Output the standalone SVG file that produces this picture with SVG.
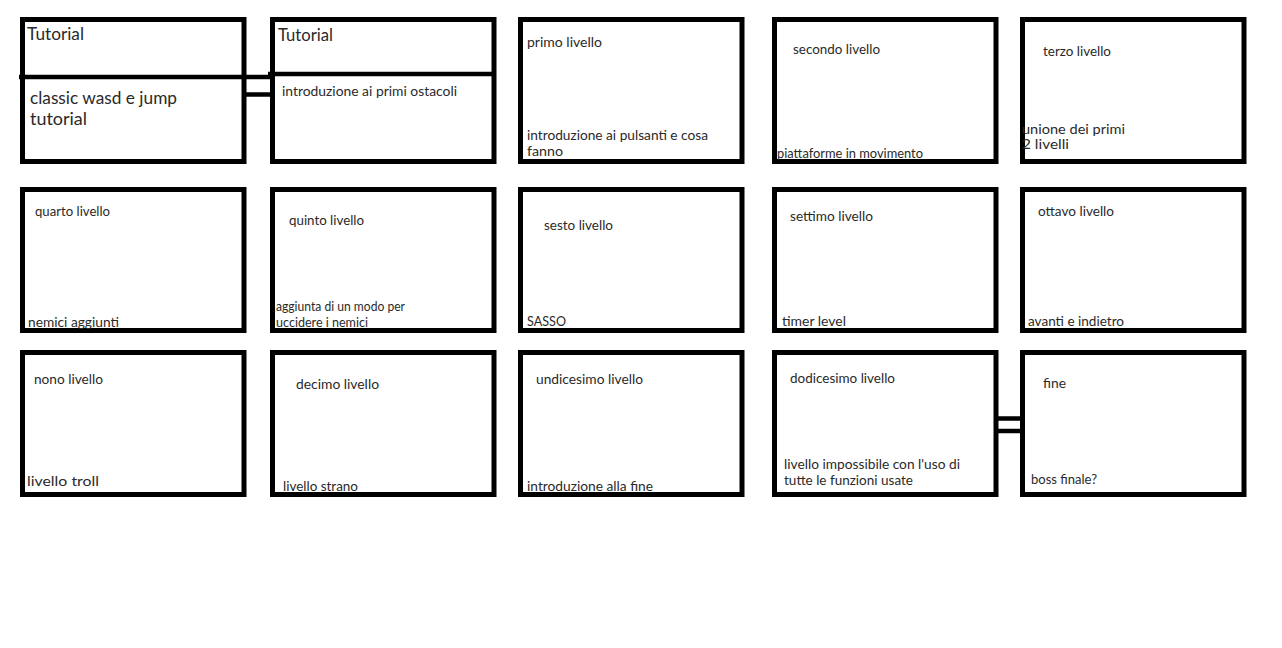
<svg xmlns="http://www.w3.org/2000/svg" width="1282" height="648" viewBox="0 0 1282 648">
  <style>
    .box { fill: #ffffff; stroke: #000000; stroke-width: 5; }
    .bar { stroke: #000000; stroke-width: 4.5; fill: none; }
    .t { font-family: Lato, "Open Sans", "Liberation Sans", sans-serif; font-size: 13px; fill: #2a2a2a; }
    .big { font-size: 16.5px; }
  </style>
  <rect width="1282" height="648" fill="#ffffff"/>

  <!-- links between consecutive levels -->
  <g id="connectors">
    <line class="bar" x1="245" y1="77" x2="272" y2="77"/>
    <line class="bar" x1="245" y1="94.5" x2="272" y2="94.5"/>
    <line class="bar" x1="997" y1="418.5" x2="1022" y2="418.5"/>
    <line class="bar" x1="997" y1="431" x2="1022" y2="431"/>
  </g>

  <!-- row 1 -->
  <g id="tutorial-1">
    <rect class="box" x="22.5" y="19.5" width="221.5" height="142"/>
    <line class="bar" x1="19" y1="77" x2="245" y2="77"/>
    <text class="t big" x="27" y="40" textLength="57" lengthAdjust="spacingAndGlyphs">Tutorial</text>
    <text class="t big" x="30" y="104" textLength="147" lengthAdjust="spacingAndGlyphs">classic wasd e jump</text>
    <text class="t big" x="30" y="125" textLength="57" lengthAdjust="spacingAndGlyphs">tutorial</text>
  </g>
  <g id="tutorial-2">
    <rect class="box" x="272.5" y="19.5" width="221.5" height="142"/>
    <line class="bar" x1="268" y1="74" x2="495" y2="74"/>
    <text class="t big" x="278" y="41" textLength="55" lengthAdjust="spacingAndGlyphs">Tutorial</text>
    <text class="t" x="282" y="96" textLength="175" lengthAdjust="spacingAndGlyphs">introduzione ai primi ostacoli</text>
  </g>
  <g id="livello-1">
    <rect class="box" x="520.5" y="19.5" width="221.5" height="142"/>
    <text class="t" x="527" y="47" textLength="75" lengthAdjust="spacingAndGlyphs">primo livello</text>
    <text class="t" x="527" y="140" textLength="181" lengthAdjust="spacingAndGlyphs">introduzione ai pulsanti e cosa</text>
    <text class="t" x="527" y="156" textLength="36" lengthAdjust="spacingAndGlyphs">fanno</text>
  </g>
  <g id="livello-2">
    <rect class="box" x="774.5" y="19.5" width="221.5" height="142"/>
    <text class="t" x="793" y="54" textLength="87" lengthAdjust="spacingAndGlyphs">secondo livello</text>
    <text class="t" x="777" y="158" textLength="146" lengthAdjust="spacingAndGlyphs">piattaforme in movimento</text>
  </g>
  <g id="livello-3">
    <rect class="box" x="1022.5" y="19.5" width="221.5" height="142"/>
    <text class="t" x="1043" y="56" textLength="68" lengthAdjust="spacingAndGlyphs">terzo livello</text>
    <text class="t" x="1022" y="134" textLength="103" lengthAdjust="spacingAndGlyphs">unione dei primi</text>
    <text class="t" x="1022" y="149" textLength="47" lengthAdjust="spacingAndGlyphs">2 livelli</text>
  </g>

  <!-- row 2 -->
  <g id="livello-4">
    <rect class="box" x="22.5" y="189.5" width="221.5" height="141"/>
    <text class="t" x="35" y="216" textLength="75" lengthAdjust="spacingAndGlyphs">quarto livello</text>
    <text class="t" x="28" y="327" textLength="91" lengthAdjust="spacingAndGlyphs">nemici aggiunti</text>
  </g>
  <g id="livello-5">
    <rect class="box" x="272.5" y="189.5" width="221.5" height="141"/>
    <text class="t" x="289" y="225" textLength="75" lengthAdjust="spacingAndGlyphs">quinto livello</text>
    <text class="t" x="276" y="311" textLength="129" lengthAdjust="spacingAndGlyphs">aggiunta di un modo per</text>
    <text class="t" x="276" y="327" textLength="92" lengthAdjust="spacingAndGlyphs">uccidere i nemici</text>
  </g>
  <g id="livello-6">
    <rect class="box" x="520.5" y="189.5" width="221.5" height="141"/>
    <text class="t" x="544" y="230" textLength="69" lengthAdjust="spacingAndGlyphs">sesto livello</text>
    <text class="t" x="527" y="326" textLength="39" lengthAdjust="spacingAndGlyphs">SASSO</text>
  </g>
  <g id="livello-7">
    <rect class="box" x="774.5" y="189.5" width="221.5" height="141"/>
    <text class="t" x="790" y="221" textLength="83" lengthAdjust="spacingAndGlyphs">settimo livello</text>
    <text class="t" x="782" y="326" textLength="64" lengthAdjust="spacingAndGlyphs">timer level</text>
  </g>
  <g id="livello-8">
    <rect class="box" x="1022.5" y="189.5" width="221.5" height="141"/>
    <text class="t" x="1038" y="216" textLength="76" lengthAdjust="spacingAndGlyphs">ottavo livello</text>
    <text class="t" x="1028" y="326" textLength="96" lengthAdjust="spacingAndGlyphs">avanti e indietro</text>
  </g>

  <!-- row 3 -->
  <g id="livello-9">
    <rect class="box" x="22.5" y="352.5" width="221.5" height="142"/>
    <text class="t" x="34" y="384" textLength="69" lengthAdjust="spacingAndGlyphs">nono livello</text>
    <text class="t" x="27" y="486" textLength="72" lengthAdjust="spacingAndGlyphs">livello troll</text>
  </g>
  <g id="livello-10">
    <rect class="box" x="272.5" y="352.5" width="221.5" height="142"/>
    <text class="t" x="296" y="389" textLength="83" lengthAdjust="spacingAndGlyphs">decimo livello</text>
    <text class="t" x="283" y="491" textLength="75" lengthAdjust="spacingAndGlyphs">livello strano</text>
  </g>
  <g id="livello-11">
    <rect class="box" x="520.5" y="352.5" width="221.5" height="142"/>
    <text class="t" x="536" y="384" textLength="107" lengthAdjust="spacingAndGlyphs">undicesimo livello</text>
    <text class="t" x="527" y="491" textLength="126" lengthAdjust="spacingAndGlyphs">introduzione alla fine</text>
  </g>
  <g id="livello-12">
    <rect class="box" x="774.5" y="352.5" width="221.5" height="142"/>
    <text class="t" x="790" y="383" textLength="105" lengthAdjust="spacingAndGlyphs">dodicesimo livello</text>
    <text class="t" x="784" y="469" textLength="176" lengthAdjust="spacingAndGlyphs">livello impossibile con l'uso di</text>
    <text class="t" x="784" y="485" textLength="129" lengthAdjust="spacingAndGlyphs">tutte le funzioni usate</text>
  </g>
  <g id="fine">
    <rect class="box" x="1022.5" y="352.5" width="221.5" height="142"/>
    <text class="t" x="1043" y="388" textLength="23" lengthAdjust="spacingAndGlyphs">fine</text>
    <text class="t" x="1031" y="484" textLength="66" lengthAdjust="spacingAndGlyphs">boss finale?</text>
  </g>
</svg>
